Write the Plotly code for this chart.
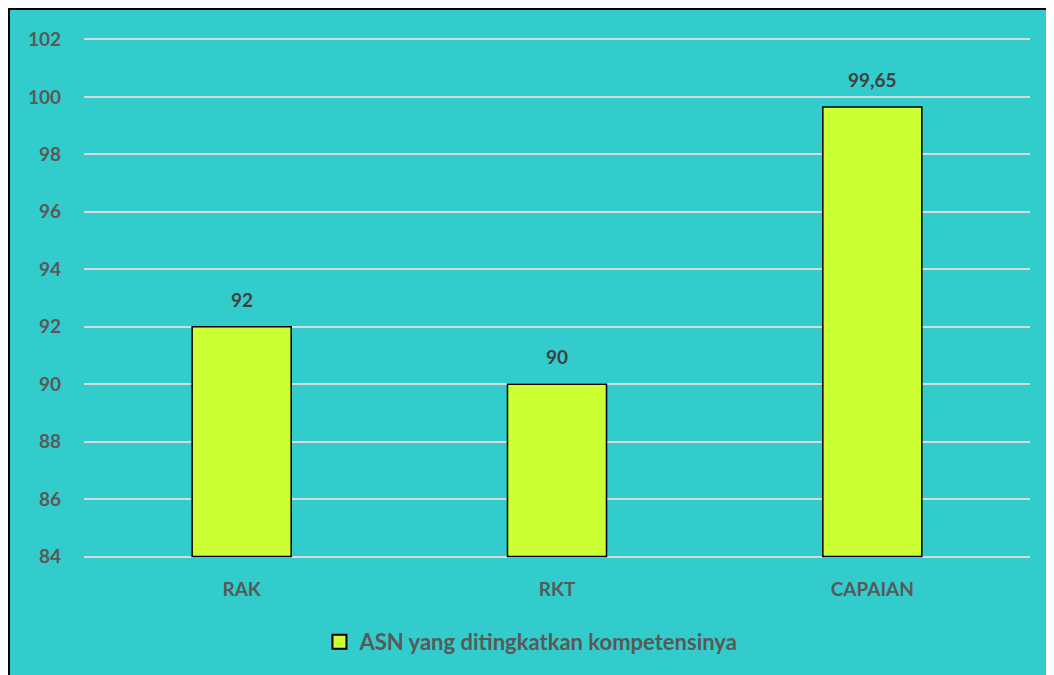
import plotly.graph_objects as go

categories = ["RAK", "RKT", "CAPAIAN"]
values = [92, 90, 99.65]
labels = ["92", "90", "99,65"]
tick_vals = [84, 86, 88, 90, 92, 94, 96, 98, 100, 102]
y_base = 84

TEAL = "#33CCCC"
BAR = "#CCFF33"
GRID = "#D9D9D9"
AXIS_TXT = "#595959"
LABEL_TXT = "#404040"
FONT = "Lato"
SERIES = "ASN yang ditingkatkan kompetensinya"

# page has an 8px body margin, so the figure is a little smaller than the window
W, H = 1046, 667
L, R, T, B = 76, 24, 30, 117
pw, ph = W - L - R, H - T - B

fig = go.Figure()
fig.add_trace(go.Bar(
    x=categories, y=[v - y_base for v in values], base=y_base,
    name=SERIES, showlegend=False,
    marker=dict(color=BAR, line=dict(color="#000000", width=1.5)),
    hoverinfo="x+text", hovertext=labels,
))
# legend entry with a bigger square swatch
fig.add_trace(go.Scatter(
    x=[None], y=[None], mode="markers", name=SERIES,
    marker=dict(symbol="square", size=14, color=BAR, line=dict(color="#000000", width=2)),
))

# value labels above the bars
for c, v, t in zip(categories, values, labels):
    fig.add_annotation(
        x=c, y=v, text=t, showarrow=False,
        yanchor="bottom", yshift=14,
        font=dict(family=FONT, size=19, color=LABEL_TXT, weight="bold"),
    )

fig.update_layout(
    width=W, height=H,
    paper_bgcolor="white",
    plot_bgcolor="rgba(0,0,0,0)",
    margin=dict(l=L, r=R, t=T, b=B),
    bargap=0.686,
    showlegend=True,
    legend=dict(
        orientation="h", x=0.473, xanchor="center",
        y=-(84 / ph), yanchor="middle",
        bgcolor="rgba(0,0,0,0)", itemwidth=30,
        font=dict(family=FONT, size=22, color=AXIS_TXT, weight="bold"),
    ),
    font=dict(family=FONT, color=AXIS_TXT),
    shapes=[dict(
        type="rect", xref="paper", yref="paper", layer="below",
        x0=-(L - 1) / pw, x1=(pw + R + 20) / pw,
        y0=-(B + 20) / ph, y1=1 + (T - 1) / ph,
        fillcolor=TEAL, line=dict(color="#000000", width=2),
    )],
)

fig.update_yaxes(
    range=[83.95, 102.05], tickvals=tick_vals,
    showgrid=True, gridcolor=GRID, gridwidth=2,
    zeroline=False, showline=False,
    tickfont=dict(family=FONT, size=19, color=AXIS_TXT, weight="bold"),
    ticklabelstandoff=22,
)
fig.update_xaxes(
    showline=False, showgrid=False,
    tickfont=dict(family=FONT, size=19, color=AXIS_TXT, weight="bold"),
    ticklabelstandoff=18,
)

fig.write_html("out.html")
